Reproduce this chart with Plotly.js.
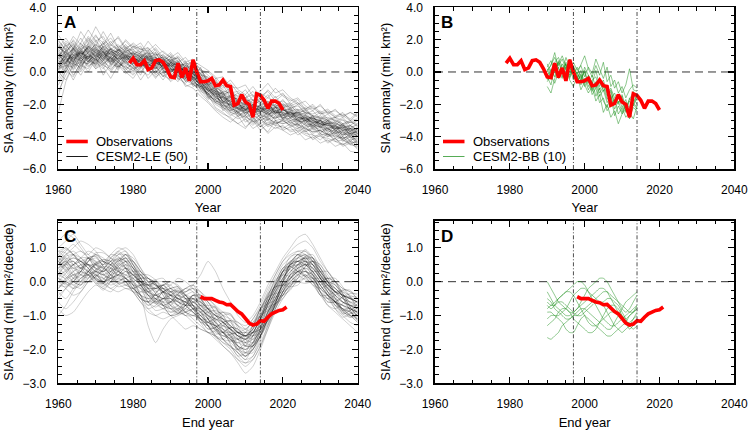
<!DOCTYPE html>
<html>
<head>
<meta charset="utf-8">
<script src="https://cdn.plot.ly/plotly-3.0.1.min.js"></script>
<style>html,body{margin:0;padding:0;background:#fff}#chart{width:750px;height:430px}</style>
</head>
<body>
<div id="chart"></div>
<script>
// ---------- DATA ----------
const yrs2 = [1960,1962,1964,1966,1968,1970,1972,1974,1976,1978,1980,1982,1984,1986,1988,1990,1992,1994,1996,1998,2000,2002,2004,2006,2008,2010,2012,2014,2016,2018,2020,2022,2024,2026,2028,2030,2032,2034,2036,2038,2040];

const obsYears = [1979,1980,1981,1982,1983,1984,1985,1986,1987,1988,1989,1990,1991,1992,1993,1994,1995,1996,1997,1998,1999,2000,2001,2002,2003,2004,2005,2006,2007,2008,2009,2010,2011,2012,2013,2014,2015,2016,2017,2018,2019,2020];
const obsSIA = [0.55,0.85,0.45,0.45,0.7,0.15,0.25,0.7,0.75,0.6,0.2,-0.3,-0.35,0.55,-0.35,0.25,-0.55,0.75,0.0,-0.6,-0.6,-0.55,-0.4,-0.85,-0.8,-0.5,-0.85,-0.9,-2.05,-1.95,-1.4,-1.85,-2.0,-2.8,-1.35,-1.45,-1.75,-2.25,-1.8,-1.8,-1.95,-2.35];

const obsTrendYears = [1998,1999,2000,2001,2002,2003,2004,2005,2006,2007,2008,2009,2010,2011,2012,2013,2014,2015,2016,2017,2018,2019,2020,2021];
const obsTrend = [-0.44,-0.5,-0.5,-0.5,-0.55,-0.6,-0.62,-0.68,-0.67,-0.78,-0.88,-0.95,-1.08,-1.22,-1.28,-1.25,-1.15,-1.17,-1.05,-0.95,-0.9,-0.85,-0.83,-0.75];

const bbYears = [1990,1991,1992,1993,1994,1995,1996,1997,1998,1999,2000,2001,2002,2003,2004,2005,2006,2007,2008,2009,2010,2011,2012,2013,2014];

// CESM2-LE SIA anomaly, 50 members (every 2 years 1960-2040)
const leSIA = [
[1.2,0.5,1.6,0.9,1.8,1.3,0.7,1.5,1.1,0.6,1.2,0.4,1.0,0.9,0.2,0.7,-0.1,0.4,-0.5,-0.3,-1.2,-0.9,-1.9,-1.5,-2.6,-2.0,-2.8,-1.9,-2.5,-2.1,-2.9,-2.2,-3.1,-2.6,-3.4,-2.9,-3.6,-3.2,-3.9,-3.3,-3.8],
[0.3,1.1,0.6,1.4,0.8,1.9,1.2,0.6,1.4,1.0,0.5,1.1,0.3,0.8,0.9,-0.1,0.5,-0.4,0.2,-0.9,-0.7,-1.6,-1.2,-2.3,-1.8,-2.7,-2.1,-2.5,-1.8,-2.6,-2.0,-2.8,-2.4,-3.2,-2.7,-3.5,-3.0,-3.7,-3.2,-4.0,-3.5],
[-1.5,0.2,0.9,0.1,1.3,0.6,1.5,0.8,0.2,1.1,0.4,-0.2,0.9,0.3,-0.3,0.6,-0.5,-0.1,-0.8,-0.4,-1.6,-1.2,-2.4,-1.9,-2.8,-2.3,-3.1,-2.6,-3.3,-2.7,-2.6,-3.2,-2.9,-3.6,-3.1,-3.8,-3.4,-4.1,-3.7,-4.3,-3.9],
[1.6,1.1,2.0,1.4,1.7,2.3,1.5,1.9,1.3,1.6,1.0,1.5,0.8,1.2,0.4,0.9,0.1,0.6,0.3,-0.2,-0.5,-1.1,-0.8,-1.6,-1.3,-2.0,-1.5,-1.9,-1.4,-2.2,-1.7,-2.3,-2.0,-2.6,-2.4,-2.9,-2.6,-3.1,-2.8,-3.3,-3.0],
[0.6,0.0,0.8,0.4,0.9,0.2,0.7,1.2,0.5,0.3,0.9,0.6,0.1,0.5,0.7,0.0,0.3,-0.6,0.0,-1.1,-1.3,-1.9,-1.5,-2.2,-2.5,-1.9,-2.7,-2.2,-3.0,-2.4,-2.9,-2.6,-3.3,-2.9,-3.5,-3.3,-3.9,-3.5,-4.2,-3.8,-4.4],
[1.0,1.5,0.7,1.2,2.0,1.4,1.0,1.7,1.4,0.8,1.3,0.9,1.4,0.5,1.0,0.7,0.9,0.2,0.5,-0.1,-0.9,-0.4,-1.3,-1.0,-1.8,-1.4,-2.1,-1.6,-2.4,-1.8,-2.2,-2.0,-2.6,-2.3,-2.9,-2.7,-3.0,-3.3,-2.9,-3.5,-3.2],
[-0.4,0.6,-0.2,0.5,1.0,0.3,0.8,0.1,0.7,0.4,-0.1,0.6,0.2,-0.4,0.3,-0.2,-0.6,0.1,-0.9,-0.7,-1.5,-2.0,-2.3,-2.7,-2.4,-3.1,-2.8,-3.4,-2.9,-3.2,-3.0,-3.3,-3.5,-3.2,-3.8,-3.6,-4.0,-3.7,-4.3,-4.0,-4.5],
[2.0,1.3,1.7,1.0,1.5,2.2,1.8,1.2,1.6,1.3,0.7,1.2,1.5,0.9,0.6,1.1,0.4,0.5,-0.1,0.2,-0.6,-0.8,-1.4,-1.2,-1.9,-1.6,-2.2,-1.7,-2.0,-1.5,-2.1,-1.9,-2.4,-2.2,-2.8,-2.5,-3.0,-2.8,-3.2,-3.0,-3.4],
[0.9,0.4,1.3,0.7,0.5,1.0,1.6,0.9,0.6,1.2,0.6,1.0,0.5,0.2,0.8,0.4,-0.1,-0.3,-0.5,-1.0,-1.1,-1.5,-2.0,-1.7,-2.3,-2.6,-2.2,-2.9,-2.5,-2.8,-2.7,-2.4,-3.0,-3.2,-3.3,-3.0,-3.5,-3.8,-3.6,-4.1,-3.9],
[0.2,0.9,1.1,0.6,1.4,0.9,1.3,0.5,1.0,0.7,1.1,0.3,0.6,1.0,0.1,0.5,0.6,-0.2,-0.3,-0.5,-0.9,-1.3,-1.6,-2.1,-1.9,-2.4,-2.0,-2.2,-2.7,-2.2,-2.5,-2.8,-2.6,-3.1,-2.9,-3.4,-3.2,-3.6,-3.4,-3.9,-3.6],
[1.4,0.8,0.4,1.2,0.9,1.6,1.0,1.3,0.7,1.0,0.9,0.6,1.1,0.3,0.7,0.2,0.0,0.3,-0.4,-0.8,-1.4,-1.1,-1.8,-2.0,-2.2,-2.5,-2.4,-2.1,-2.6,-2.9,-2.3,-2.7,-3.0,-2.8,-3.2,-3.4,-3.1,-3.6,-3.9,-3.7,-4.0],
[-2.5,-0.6,0.4,-0.2,0.6,1.2,0.5,0.9,0.3,0.6,0.2,0.7,0.0,0.4,-0.3,0.1,-0.2,-0.5,-0.2,-0.9,-1.6,-1.9,-2.2,-2.6,-2.9,-2.7,-3.2,-2.8,-3.0,-3.3,-2.9,-3.4,-3.2,-3.7,-3.5,-3.9,-3.8,-4.2,-4.0,-4.5,-4.2],
[0.7,1.3,1.8,1.1,1.5,1.0,1.9,1.4,1.2,1.5,1.0,0.9,0.6,0.8,0.5,0.3,0.7,0.1,-0.1,-0.4,-0.8,-1.2,-1.4,-1.8,-2.0,-1.8,-2.4,-2.3,-2.0,-2.5,-2.4,-2.2,-2.7,-2.5,-3.0,-3.2,-2.9,-3.4,-3.3,-3.6,-3.5],
[1.1,0.6,1.2,1.6,1.2,0.7,1.1,0.9,1.5,1.0,0.4,0.8,0.9,0.4,0.2,0.5,0.1,0.2,0.0,-0.3,-1.0,-1.7,-1.5,-1.9,-2.3,-2.1,-2.5,-2.4,-2.2,-2.0,-2.6,-2.5,-2.8,-3.0,-2.8,-3.2,-3.5,-3.3,-3.6,-3.5,-3.8],
[0.4,0.8,0.2,1.0,0.6,1.4,0.9,0.6,1.1,0.5,0.8,0.4,0.7,0.6,0.3,-0.2,0.2,-0.2,-0.6,-0.9,-1.3,-1.7,-2.1,-2.0,-2.5,-2.3,-2.6,-3.0,-2.7,-2.4,-2.8,-3.0,-2.9,-3.3,-3.4,-3.2,-3.7,-3.6,-3.9,-3.8,-4.1],
[1.8,1.0,1.4,2.1,1.3,1.7,1.2,1.4,0.9,1.3,1.4,1.0,1.2,0.7,1.1,0.6,0.5,0.4,0.2,0.1,-0.4,-0.7,-1.1,-1.4,-1.5,-1.8,-1.7,-2.0,-1.9,-2.1,-2.0,-2.2,-2.1,-2.5,-2.6,-2.4,-2.9,-2.8,-3.0,-3.1,-3.0],
[0.0,0.7,0.5,0.3,1.1,0.8,0.4,1.0,0.6,0.2,0.5,0.9,0.3,0.0,0.4,0.2,-0.3,-0.4,-0.7,-1.2,-1.4,-1.8,-2.0,-2.4,-2.2,-2.6,-2.9,-2.7,-2.5,-3.0,-2.9,-3.1,-3.3,-3.4,-3.3,-3.7,-3.6,-3.9,-4.1,-3.9,-4.3],
[1.3,1.6,1.2,0.9,1.6,1.2,1.5,1.1,1.4,1.2,1.1,1.3,0.8,0.9,0.6,0.8,0.3,0.1,0.1,-0.5,-0.7,-1.0,-1.6,-1.5,-1.7,-2.1,-2.0,-1.8,-2.3,-2.2,-2.4,-2.3,-2.6,-2.7,-2.9,-2.8,-3.1,-3.2,-3.4,-3.3,-3.6],
[0.5,0.2,0.9,1.3,0.7,0.5,1.2,1.1,0.8,0.9,0.6,0.5,0.4,0.7,0.5,0.1,0.4,0.0,-0.3,-0.6,-1.1,-1.3,-1.8,-2.2,-2.0,-2.3,-2.5,-2.4,-2.6,-2.4,-2.7,-2.6,-2.9,-3.0,-3.1,-3.0,-3.4,-3.5,-3.5,-3.8,-3.7],
[0.9,1.2,0.8,1.1,1.3,1.0,0.8,1.3,1.0,0.8,0.9,0.7,0.9,0.6,0.4,0.4,0.3,-0.1,-0.1,-0.7,-1.0,-1.5,-1.6,-1.9,-2.1,-2.0,-2.3,-2.5,-2.3,-2.5,-2.5,-2.4,-2.8,-2.9,-3.1,-3.1,-3.3,-3.3,-3.6,-3.6,-3.8],
[1.5,2.1,1.4,2.5,1.8,2.8,2.0,1.6,2.2,1.5,1.7,1.2,1.9,1.3,0.8,1.2,0.6,0.9,0.3,-0.2,-0.3,-0.9,-0.6,-1.2,-1.5,-1.1,-1.8,-1.3,-1.6,-1.0,-1.5,-1.8,-1.6,-2.1,-2.4,-2.0,-2.6,-2.3,-2.8,-2.5,-2.7],
[-0.8,0.1,-0.3,0.6,0.0,0.8,0.3,-0.4,0.4,-0.1,0.3,-0.5,0.2,-0.3,0.0,-0.6,-0.2,-0.8,-1.0,-1.5,-1.9,-2.4,-2.8,-3.1,-2.7,-3.4,-3.0,-3.6,-3.2,-3.5,-3.3,-3.7,-3.6,-3.9,-4.1,-3.8,-4.3,-4.1,-4.6,-4.4,-4.7],
[0.8,1.7,1.0,1.5,2.2,1.6,2.5,1.7,1.3,2.0,1.5,1.8,1.1,1.5,0.9,0.7,1.0,0.5,0.6,0.2,-0.2,-0.6,-1.0,-0.7,-1.3,-1.6,-1.2,-1.7,-1.1,-1.6,-1.3,-2.0,-1.7,-2.3,-2.1,-2.6,-2.4,-2.8,-2.5,-3.0,-2.6],
[1.7,0.9,1.5,0.6,1.2,0.4,1.3,0.8,0.1,0.9,1.0,0.2,0.6,-0.1,0.5,0.0,0.4,-0.4,0.1,-0.6,-1.2,-1.0,-1.9,-1.4,-2.3,-1.8,-2.6,-2.0,-2.8,-2.1,-3.0,-2.4,-3.2,-2.7,-3.5,-3.0,-3.8,-3.3,-4.0,-3.5,-4.0],
[0.1,1.4,0.6,1.8,1.1,0.7,1.7,2.1,1.5,0.9,1.6,1.1,0.9,1.4,0.7,1.0,0.2,0.7,-0.4,0.3,-0.8,-0.5,-1.5,-1.1,-1.9,-2.4,-1.7,-2.5,-1.9,-2.6,-2.1,-2.9,-2.3,-3.0,-2.7,-3.3,-3.0,-3.5,-3.2,-3.7,-3.4],
[1.2,0.3,-0.5,0.4,0.2,0.9,-0.2,0.5,0.8,0.0,-0.4,0.3,0.6,0.1,-0.5,0.2,-0.4,-0.7,-0.3,-0.8,-1.4,-2.2,-2.5,-2.9,-3.2,-3.5,-2.9,-3.3,-3.7,-3.0,-3.6,-3.4,-3.9,-3.6,-4.2,-3.9,-4.4,-4.1,-4.5,-4.3,-4.8],
[1.9,1.4,2.2,1.7,1.4,2.0,1.3,1.8,2.1,1.4,1.8,1.4,1.3,1.7,1.2,0.9,0.8,0.3,0.7,0.4,0.1,-0.3,-0.9,-0.5,-1.1,-1.4,-0.9,-1.5,-1.2,-1.8,-1.4,-1.7,-2.0,-1.8,-2.3,-2.1,-2.5,-2.4,-2.7,-2.5,-2.8],
[0.6,1.0,0.1,0.8,1.7,1.1,0.6,0.3,1.2,0.7,0.0,0.9,0.5,0.9,0.2,0.6,0.7,-0.2,-0.1,-0.6,-1.2,-1.4,-2.0,-2.3,-2.6,-2.9,-3.3,-2.9,-3.4,-3.1,-3.5,-3.2,-3.7,-3.4,-3.9,-4.2,-3.8,-4.3,-4.5,-4.2,-4.6],
[-0.6,0.3,1.0,0.4,0.8,1.5,1.0,0.7,1.4,0.9,1.2,0.9,1.2,0.4,0.6,0.2,0.1,-0.6,-0.4,-1.1,-1.7,-1.3,-2.2,-2.4,-2.0,-2.5,-2.7,-2.5,-2.2,-2.7,-3.1,-2.8,-3.3,-3.0,-3.6,-3.4,-3.9,-3.7,-4.0,-4.2,-4.1],
[1.0,1.3,0.5,1.3,0.9,1.2,0.8,1.5,0.7,1.3,0.9,1.2,0.7,0.8,0.9,0.3,0.6,0.0,0.4,-0.3,-0.6,-1.2,-1.3,-1.7,-1.6,-2.3,-2.0,-2.2,-2.4,-2.0,-2.3,-2.7,-2.5,-2.6,-3.0,-2.9,-3.1,-3.0,-3.3,-3.4,-3.3],
[0.3,0.6,1.2,0.7,1.0,0.6,1.1,1.4,0.6,1.1,0.7,0.5,0.3,0.6,0.1,-0.3,0.0,0.2,-0.7,-0.9,-1.0,-1.6,-1.9,-2.3,-2.4,-2.1,-2.3,-2.8,-2.6,-2.9,-2.6,-3.0,-3.1,-3.0,-3.3,-3.6,-3.5,-3.8,-3.7,-4.0,-4.2],
[1.4,1.9,1.5,1.0,1.6,1.3,1.8,1.0,1.3,1.7,1.2,0.7,1.1,1.2,0.4,0.8,0.5,0.2,-0.2,0.0,-0.5,-1.0,-1.2,-1.3,-1.9,-1.7,-1.9,-1.6,-2.1,-2.3,-1.9,-2.4,-2.3,-2.5,-2.7,-2.8,-3.0,-2.9,-3.3,-3.1,-3.2],
[0.0,-0.5,0.5,0.9,0.4,0.6,0.2,0.9,0.4,0.1,0.6,0.1,-0.2,0.3,0.1,-0.1,-0.4,-0.3,-0.6,-0.9,-1.3,-1.8,-1.9,-2.5,-2.7,-2.5,-2.8,-3.2,-2.9,-3.1,-3.2,-3.0,-3.4,-3.7,-3.4,-3.8,-4.0,-3.9,-4.2,-4.4,-4.3],
[0.8,1.1,1.4,0.8,1.2,1.7,1.4,1.1,0.8,1.4,1.1,1.0,0.8,0.5,0.7,0.5,0.2,0.1,-0.1,-0.5,-0.7,-1.1,-1.5,-1.8,-2.2,-2.4,-2.2,-2.1,-2.4,-2.6,-2.4,-2.3,-2.8,-2.9,-3.0,-3.2,-3.3,-3.5,-3.4,-3.7,-3.8],
[1.1,0.9,0.6,1.5,0.7,1.0,1.4,0.7,1.2,0.8,0.5,0.8,0.4,0.8,0.6,0.4,0.0,0.4,0.1,-0.4,-0.9,-1.4,-1.3,-2.0,-2.0,-2.2,-2.1,-2.6,-2.4,-2.3,-2.6,-2.5,-2.7,-2.8,-3.2,-3.0,-3.2,-3.5,-3.4,-3.6,-3.7],
[0.4,0.0,1.1,0.5,1.6,0.9,1.2,0.4,0.9,0.5,0.3,0.8,0.2,0.6,0.4,0.0,0.2,-0.3,-0.4,-0.8,-1.2,-1.6,-1.8,-2.1,-2.3,-2.4,-2.6,-2.7,-2.8,-2.6,-2.8,-2.9,-3.0,-3.1,-3.3,-3.4,-3.6,-3.4,-3.8,-3.9,-4.0],
[1.5,1.2,0.9,1.2,0.6,1.3,0.9,1.2,1.3,1.1,0.8,0.6,1.0,0.6,0.3,0.6,0.4,0.0,0.0,-0.5,-0.9,-1.2,-1.7,-1.6,-1.9,-2.2,-2.4,-2.2,-2.0,-2.4,-2.3,-2.6,-2.5,-2.9,-2.8,-3.1,-3.2,-3.1,-3.4,-3.5,-3.5],
[0.7,0.5,1.4,1.0,0.8,0.5,1.0,0.6,0.9,0.6,0.7,0.3,0.8,0.2,0.4,0.1,0.2,-0.4,-0.3,-0.8,-1.1,-1.5,-1.9,-2.0,-2.3,-2.5,-2.4,-2.6,-2.9,-2.8,-2.8,-2.7,-3.0,-3.3,-3.2,-3.4,-3.5,-3.7,-3.7,-3.8,-3.9],
[2.3,1.6,1.9,1.3,2.1,1.5,1.7,2.4,1.5,1.9,1.4,1.6,0.9,1.1,1.0,0.6,0.9,0.2,0.3,-0.1,-0.4,-0.8,-0.7,-1.3,-1.2,-1.6,-1.4,-1.9,-1.6,-1.9,-1.8,-2.1,-1.9,-2.4,-2.2,-2.6,-2.5,-2.8,-2.7,-3.0,-2.9],
[-1.2,-0.2,0.6,0.0,0.7,0.2,0.5,0.0,0.6,0.2,-0.2,0.4,-0.4,0.1,-0.2,-0.5,-0.1,-0.9,-0.7,-1.3,-1.8,-2.3,-2.6,-2.8,-3.2,-2.9,-3.5,-3.2,-3.8,-3.4,-3.6,-3.9,-3.7,-4.2,-4.0,-4.4,-4.2,-4.6,-4.4,-4.9,-5.0],
[0.9,1.8,1.3,1.8,2.6,1.9,2.2,1.4,1.7,1.2,1.6,1.4,1.5,1.0,1.3,0.9,1.2,0.6,0.8,0.1,0.0,-0.4,-0.3,-0.9,-1.0,-0.8,-1.5,-1.2,-0.7,-1.3,-1.1,-1.6,-1.9,-2.3,-2.0,-2.5,-2.3,-2.7,-2.6,-2.9,-2.5],
[0.5,1.0,0.7,0.2,1.0,0.4,0.9,0.5,0.3,0.8,0.4,0.0,0.5,0.2,0.6,0.3,-0.2,0.0,-0.5,-0.7,-1.5,-1.7,-2.1,-2.2,-2.5,-2.8,-2.6,-3.0,-2.8,-3.2,-3.0,-3.3,-3.2,-3.5,-3.7,-3.6,-3.9,-3.8,-4.1,-4.0,-4.4],
[1.6,1.2,1.7,1.1,1.4,0.9,1.6,1.3,1.0,1.5,1.3,1.1,0.7,1.1,0.8,0.6,0.3,0.5,0.2,-0.1,-0.6,-0.9,-1.3,-1.5,-1.7,-1.6,-2.0,-2.1,-1.8,-2.2,-2.2,-2.1,-2.5,-2.4,-2.7,-2.9,-2.8,-3.0,-3.2,-3.1,-3.3],
[0.2,0.4,0.3,0.9,0.3,0.8,0.4,0.2,0.6,0.3,0.1,0.5,0.1,0.3,-0.1,0.2,-0.3,-0.2,-0.5,-1.0,-1.4,-1.8,-2.2,-2.5,-2.6,-2.8,-3.0,-3.4,-3.1,-3.3,-3.4,-3.6,-3.5,-3.8,-3.9,-4.0,-4.1,-4.3,-4.2,-4.5,-4.6],
[1.3,0.7,1.0,1.3,0.6,1.1,0.6,1.0,0.4,1.0,0.6,0.9,0.4,0.7,0.3,0.7,0.1,0.3,-0.4,-0.6,-1.0,-1.2,-1.6,-1.8,-1.8,-2.0,-2.2,-2.3,-2.2,-2.4,-2.3,-2.6,-2.5,-2.7,-2.9,-3.0,-3.2,-3.1,-3.5,-3.3,-3.6],
[0.7,0.3,1.5,0.8,1.2,1.5,0.7,1.2,0.8,1.4,1.0,0.8,1.3,0.4,0.8,0.4,0.5,-0.1,0.2,-0.4,-0.8,-1.3,-1.5,-1.9,-2.1,-2.3,-2.1,-2.4,-2.6,-2.5,-2.7,-2.5,-2.9,-2.8,-3.1,-3.3,-3.2,-3.4,-3.6,-3.5,-3.7],
[0.1,0.9,0.4,0.6,0.5,0.9,0.5,0.9,0.3,0.7,0.2,0.4,0.5,-0.2,0.2,-0.3,0.0,-0.5,-0.8,-1.0,-1.3,-1.9,-2.1,-2.4,-2.5,-2.7,-3.1,-2.9,-3.3,-3.0,-3.2,-3.1,-3.4,-3.5,-3.7,-3.6,-3.9,-4.0,-4.1,-4.3,-4.4],
[1.0,0.6,1.0,1.2,1.5,1.2,0.9,1.4,1.2,1.0,1.2,0.9,1.0,0.7,0.5,0.5,0.4,0.2,-0.2,-0.3,-0.8,-1.1,-1.4,-1.6,-1.9,-2.0,-2.1,-2.2,-2.5,-2.2,-2.3,-2.5,-2.6,-2.8,-2.9,-3.0,-3.2,-3.2,-3.3,-3.5,-3.6],
[0.6,0.8,0.9,0.7,1.0,0.8,1.3,0.6,1.1,0.8,0.7,0.6,0.6,0.5,0.4,0.2,0.1,0.1,-0.3,-0.7,-1.1,-1.4,-1.7,-2.1,-2.2,-2.3,-2.4,-2.3,-2.5,-2.4,-2.6,-2.8,-2.7,-3.0,-3.1,-3.2,-3.3,-3.6,-3.6,-3.8,-3.9],
[0.4,1.1,0.8,1.2,0.8,1.4,1.2,0.8,1.2,0.9,0.8,0.7,0.8,0.6,0.6,0.3,0.3,-0.1,-0.1,-0.6,-1.0,-1.3,-1.8,-1.8,-2.1,-2.3,-2.2,-2.4,-2.2,-2.5,-2.5,-2.6,-2.8,-2.9,-3.0,-3.2,-3.3,-3.4,-3.5,-3.7,-3.8]
];

// CESM2-LE SIA trend by end year, 50 members (every 2 years 1960-2040)
const leTrend = [
[0.6,0.8,0.9,0.7,0.5,0.3,0.2,0.4,0.6,0.7,0.4,0.1,-0.2,-0.4,-0.5,-0.4,-0.3,-0.5,-0.7,-1.0,-1.3,-1.5,-1.6,-1.7,-1.9,-2.0,-1.8,-1.4,-0.9,-0.4,0.1,0.5,0.7,0.8,0.6,0.3,0.0,-0.3,-0.5,-0.6,-0.8],
[0.1,0.0,-0.1,0.1,0.3,0.5,0.4,0.2,0.1,0.0,-0.2,-0.4,-0.6,-0.5,-0.3,-0.2,-0.4,-0.7,-0.9,-1.1,-1.2,-1.1,-1.2,-1.4,-1.6,-1.9,-1.9,-1.6,-1.1,-0.7,-0.3,0.0,0.2,0.3,0.2,-0.1,-0.4,-0.6,-0.8,-0.9,-1.0],
[0.5,0.7,0.6,0.4,0.6,0.8,0.6,0.3,0.2,0.3,0.2,0.0,-0.1,0.0,-0.2,-0.4,-0.6,-0.7,-0.5,-0.6,-0.8,-1.0,-1.2,-1.4,-1.5,-1.6,-1.4,-1.0,-0.6,-0.2,0.3,0.6,0.7,0.6,0.4,0.1,-0.1,-0.3,-0.4,-0.5,-0.6],
[-0.3,-0.5,-0.2,0.1,0.2,0.0,-0.2,0.0,0.3,0.5,0.4,0.1,-0.3,-0.6,-0.8,-0.9,-0.8,-0.6,-0.4,-0.5,-0.8,-1.2,-1.5,-1.8,-2.0,-2.1,-1.9,-1.5,-1.0,-0.5,-0.1,0.2,0.4,0.5,0.5,0.3,0.0,-0.3,-0.6,-0.8,-0.9],
[0.8,1.0,0.8,0.6,0.5,0.5,0.3,0.5,0.7,0.6,0.3,-0.1,-0.3,-0.2,-0.1,-0.3,-0.5,-0.6,-0.8,-1.0,-1.2,-1.3,-1.3,-1.4,-1.6,-1.7,-1.5,-1.1,-0.6,-0.1,0.3,0.6,0.8,0.9,0.7,0.4,0.1,-0.2,-0.4,-0.5,-0.6],
[0.2,0.3,0.5,0.6,0.7,0.6,0.5,0.6,0.8,0.8,0.5,0.2,0.0,-0.1,-0.3,-0.5,-0.7,-0.8,-0.9,-1.1,-1.3,-1.6,-1.8,-1.9,-2.1,-2.2,-2.0,-1.6,-1.1,-0.6,-0.2,0.1,0.3,0.3,0.1,-0.2,-0.4,-0.6,-0.7,-0.8,-0.9],
[0.4,0.2,0.0,-0.1,0.1,0.3,0.2,0.1,0.2,0.1,-0.1,-0.2,-0.3,-0.5,-0.7,-0.8,-0.7,-0.5,-0.5,-0.7,-0.9,-1.0,-1.1,-1.3,-1.5,-1.6,-1.5,-1.1,-0.7,-0.3,0.0,0.3,0.5,0.6,0.5,0.2,-0.1,-0.3,-0.5,-0.7,-0.9],
[-0.6,-0.8,-0.6,-0.3,0.0,0.2,0.1,0.0,0.1,0.3,0.2,0.0,-0.2,-0.2,-0.1,-0.3,-0.5,-0.6,-0.7,-0.9,-1.1,-1.3,-1.5,-1.7,-1.8,-1.9,-1.6,-1.3,-0.9,-0.5,-0.1,0.2,0.3,0.2,0.0,-0.3,-0.5,-0.6,-0.7,-0.8,-1.0],
[1.0,1.2,1.4,1.1,0.8,0.6,0.4,0.3,0.5,0.4,0.2,0.0,-0.1,-0.2,-0.2,-0.3,-0.3,-0.4,-0.6,-0.8,-1.0,-1.1,-1.3,-1.5,-1.7,-1.8,-1.7,-1.3,-0.8,-0.4,0.0,0.3,0.5,0.6,0.5,0.2,-0.1,-0.3,-0.4,-0.6,-0.7],
[0.8,0.65,0.3,0.0,0.0,0.15,0.35,0.7,0.85,0.6,0.1,-0.4,-0.7,-0.55,-0.3,-0.2,-0.15,-0.4,-0.7,-1.1,-1.4,-1.35,-1.2,-1.15,-1.3,-1.5,-1.6,-1.5,-1.15,-0.65,0.0,0.55,0.8,0.65,0.2,-0.3,-0.6,-0.6,-0.45,-0.45,-0.65],
[-0.1,-0.15,0.0,0.3,0.7,0.75,0.45,0.2,-0.05,-0.2,-0.2,-0.1,0.0,0.05,-0.2,-0.6,-0.85,-1.0,-0.8,-0.7,-0.7,-0.75,-1.1,-1.55,-2.1,-2.3,-1.9,-1.2,-0.45,0.05,0.2,0.15,0.0,-0.05,0.0,0.0,0.1,0.0,-0.35,-0.75,-1.05],
[0.5,0.75,0.8,0.6,0.4,0.05,-0.15,0.1,0.45,0.6,0.5,0.1,-0.4,-0.65,-0.8,-0.7,-0.45,-0.3,-0.2,-0.6,-1.1,-1.45,-1.6,-1.55,-1.5,-1.4,-1.2,-1.0,-0.85,-0.65,-0.4,0.05,0.5,0.75,0.7,0.2,-0.3,-0.7,-0.95,-0.85,-0.65],
[-1.0,-0.7,-0.3,0.0,0.2,0.3,0.2,0.3,0.4,0.3,0.1,-0.1,-0.4,-0.6,-0.7,-0.6,-0.5,-0.6,-0.8,-1.0,-1.2,-1.3,-1.4,-1.6,-1.9,-2.0,-1.8,-1.4,-0.9,-0.5,-0.1,0.1,0.3,0.4,0.3,0.0,-0.3,-0.5,-0.6,-0.7,-0.8],
[0.4,0.5,0.6,0.4,0.5,0.4,0.3,0.5,0.8,0.9,0.6,0.2,-0.1,-0.3,-0.2,-0.3,-0.4,-0.5,-0.5,-0.7,-0.9,-1.1,-1.3,-1.4,-1.6,-1.6,-1.4,-1.0,-0.5,-0.1,0.3,0.5,0.7,0.8,0.6,0.3,0.0,-0.2,-0.4,-0.5,-0.6],
[0.2,0.1,0.2,0.3,0.2,0.1,0.0,0.1,0.0,-0.1,-0.2,-0.4,-0.5,-0.4,-0.5,-0.7,-0.8,-0.9,-0.8,-0.9,-1.1,-1.3,-1.5,-1.7,-2.0,-2.2,-2.0,-1.6,-1.1,-0.7,-0.3,0.0,0.2,0.3,0.1,-0.2,-0.4,-0.6,-0.8,-0.9,-1.1],
[0.6,0.4,0.5,0.7,0.9,0.8,0.6,0.5,0.4,0.5,0.3,0.1,-0.1,-0.1,-0.2,-0.4,-0.5,-0.4,-0.3,-0.5,-0.8,-1.0,-1.1,-1.2,-1.5,-1.6,-1.5,-1.1,-0.6,-0.2,0.2,0.5,0.6,0.7,0.5,0.2,0.0,-0.2,-0.4,-0.5,-0.5],
[0.3,0.15,-0.1,-0.2,0.1,0.35,0.55,0.8,0.75,0.4,-0.1,-0.5,-0.6,-0.35,-0.1,-0.1,-0.35,-0.7,-0.9,-1.2,-1.2,-1.05,-0.9,-0.95,-1.4,-1.8,-1.9,-1.6,-1.05,-0.35,0.3,0.75,0.8,0.55,0.1,-0.4,-0.5,-0.4,-0.25,-0.25,-0.55],
[0.0,0.25,0.5,0.7,0.7,0.35,-0.05,-0.2,-0.05,0.2,0.3,0.3,0.0,-0.35,-0.7,-1.0,-0.95,-0.7,-0.4,-0.4,-0.6,-0.95,-1.4,-1.85,-2.2,-2.1,-1.6,-0.9,-0.35,-0.15,-0.1,-0.15,-0.1,0.15,0.3,0.3,0.3,0.0,-0.45,-0.85,-1.15],
[0.9,0.85,0.5,0.2,0.2,0.35,0.45,0.4,0.15,-0.1,-0.2,-0.1,-0.1,-0.05,-0.3,-0.7,-0.95,-0.9,-0.6,-0.5,-0.5,-0.75,-1.2,-1.65,-2.0,-1.9,-1.4,-0.8,-0.45,-0.35,-0.3,-0.15,0.2,0.55,0.6,0.4,0.0,-0.5,-0.85,-0.95,-0.85],
[0.1,0.35,0.4,0.3,0.2,-0.05,-0.25,0.0,0.35,0.6,0.6,0.3,-0.2,-0.55,-0.7,-0.6,-0.35,-0.2,-0.1,-0.5,-1.0,-1.35,-1.6,-1.65,-1.7,-1.6,-1.5,-1.3,-1.05,-0.75,-0.3,0.25,0.7,0.95,0.7,0.1,-0.4,-0.8,-1.05,-0.95,-0.75],
[1.2,1.4,1.3,1.0,0.7,0.5,0.4,0.6,0.9,1.0,0.8,0.4,0.0,-0.2,-0.1,0.0,-0.1,-0.3,-0.1,0.2,0.6,0.3,-0.2,-0.6,-1.0,-1.2,-1.0,-0.6,-0.1,0.3,0.7,1.0,1.3,1.4,1.1,0.7,0.3,0.0,-0.2,-0.3,-0.5],
[-0.8,-1.0,-0.9,-0.6,-0.3,-0.1,-0.2,-0.3,-0.1,0.0,-0.3,-0.6,-0.9,-1.0,-0.9,-1.0,-1.2,-1.4,-1.3,-1.4,-1.5,-1.7,-1.9,-2.1,-2.3,-2.4,-2.2,-1.8,-1.3,-0.8,-0.4,-0.1,0.0,0.1,-0.1,-0.4,-0.7,-0.9,-1.1,-1.3,-1.5],
[0.6,0.9,1.1,0.9,0.8,1.0,0.9,0.7,0.6,0.8,0.7,0.4,0.1,-0.1,-0.2,-0.1,0.1,0.0,-0.2,-0.4,-0.6,-0.8,-1.0,-1.1,-1.3,-1.4,-1.2,-0.8,-0.4,0.1,0.5,0.7,0.9,0.9,0.6,0.2,-0.1,-0.3,-0.3,-0.4,-0.5],
[0.0,-0.2,-0.4,-0.3,0.0,0.2,0.0,-0.2,-0.3,-0.2,-0.3,-0.5,-0.8,-1.0,-1.1,-1.0,-0.9,-1.0,-1.2,-1.4,-1.5,-1.6,-1.7,-1.9,-2.2,-2.4,-2.3,-1.9,-1.4,-0.9,-0.5,-0.2,0.0,0.2,0.1,-0.2,-0.5,-0.8,-1.0,-1.2,-1.3],
[0.9,0.7,0.5,0.4,0.6,0.7,0.5,0.8,1.0,0.9,0.5,0.1,-0.2,-0.5,-0.7,-0.8,-0.8,-0.7,-0.6,-0.8,-1.1,-1.4,-1.7,-1.9,-2.1,-2.3,-2.2,-1.7,-1.1,-0.6,-0.2,0.2,0.5,0.7,0.7,0.5,0.2,-0.1,-0.3,-0.5,-0.6],
[-0.5,-0.2,0.1,0.3,0.5,0.4,0.1,-0.1,0.0,0.1,-0.1,-0.4,-1.3,-1.8,-1.4,-1.1,-1.0,-0.9,-0.8,-0.8,-1.0,-1.2,-1.4,-1.6,-1.9,-2.1,-2.0,-1.6,-1.2,-0.7,-0.3,0.1,0.3,0.4,0.2,-0.1,-0.4,-0.6,-0.8,-1.0,-1.2],
[0.5,0.8,1.0,1.2,1.1,0.9,0.6,0.5,0.6,0.8,0.6,0.3,0.1,0.0,0.0,-0.2,-0.3,-0.3,-0.2,-0.3,-0.5,-0.7,-0.9,-1.0,-1.2,-1.3,-1.1,-0.7,-0.2,0.2,0.6,0.9,1.1,1.2,1.0,0.6,0.3,0.0,-0.2,-0.3,-0.4],
[0.1,-0.1,0.0,0.2,0.3,0.2,0.0,0.1,0.2,0.1,-0.2,-0.5,-0.6,-0.6,-0.5,-0.6,-0.7,-0.9,-1.1,-1.3,-1.5,-1.6,-1.8,-2.0,-2.3,-2.5,-2.3,-1.9,-1.3,-0.8,-0.4,-0.1,0.1,0.2,0.0,-0.3,-0.5,-0.7,-0.8,-1.0,-1.1],
[0.4,0.6,0.4,0.2,0.1,0.3,0.5,0.7,0.9,0.7,0.4,0.0,-0.3,-0.4,-0.3,-0.3,-0.2,-0.4,-0.6,-0.7,-0.8,-0.9,-1.1,-1.3,-1.5,-1.5,-1.3,-0.9,-0.4,0.0,0.4,0.6,0.6,0.5,0.3,0.0,-0.3,-0.6,-0.8,-0.8,-0.9],
[-0.2,0.0,0.2,0.1,0.3,0.5,0.6,0.5,0.3,0.2,0.1,-0.1,-0.4,-0.5,-0.6,-0.8,-0.9,-0.8,-0.6,-0.8,-1.0,-1.2,-1.4,-1.5,-1.7,-1.8,-1.6,-1.2,-0.7,-0.3,0.1,0.4,0.6,0.7,0.5,0.1,-0.2,-0.4,-0.6,-0.7,-0.8],
[0.8,0.6,0.4,0.5,0.7,0.5,0.2,0.1,0.2,0.4,0.3,0.0,-0.3,-0.4,-0.3,-0.4,-0.6,-0.7,-0.7,-0.9,-1.2,-1.4,-1.5,-1.5,-1.6,-1.7,-1.5,-1.1,-0.6,-0.1,0.2,0.5,0.6,0.5,0.3,-0.1,-0.4,-0.7,-0.9,-1.0,-1.0],
[0.6,0.45,0.1,0.0,0.3,0.55,0.65,0.6,0.35,0.0,-0.3,-0.3,-0.2,0.05,0.1,-0.2,-0.55,-0.9,-1.0,-1.0,-0.9,-0.85,-1.0,-1.35,-1.9,-2.2,-2.0,-1.4,-0.65,-0.05,0.4,0.45,0.3,0.15,0.0,-0.1,0.0,-0.1,-0.35,-0.65,-0.95],
[-0.2,0.05,0.3,0.5,0.5,0.25,-0.05,0.1,0.45,0.6,0.3,-0.2,-0.6,-0.85,-0.8,-0.6,-0.35,-0.2,-0.3,-0.8,-1.3,-1.65,-1.7,-1.55,-1.5,-1.5,-1.5,-1.4,-1.15,-0.65,0.0,0.55,0.6,0.35,0.0,-0.4,-0.4,-0.3,-0.25,-0.45,-0.85],
[0.4,0.65,0.8,0.7,0.5,0.15,-0.05,0.2,0.55,0.7,0.4,-0.1,-0.6,-0.75,-0.6,-0.4,-0.25,-0.4,-0.7,-1.2,-1.5,-1.45,-1.3,-1.15,-1.2,-1.4,-1.5,-1.4,-1.15,-0.65,-0.1,0.45,0.8,0.75,0.3,-0.3,-0.7,-0.8,-0.65,-0.45,-0.45],
[0.5,0.6,0.7,0.6,0.4,0.2,0.1,0.2,0.3,0.4,0.2,0.0,-0.2,-0.2,-0.3,-0.4,-0.4,-0.5,-0.6,-0.6,-0.8,-1.0,-1.1,-1.3,-1.5,-1.6,-1.4,-1.0,-0.5,-0.1,0.3,0.5,0.6,0.6,0.4,0.1,-0.1,-0.3,-0.4,-0.5,-0.6],
[0.3,0.05,-0.2,-0.1,0.3,0.55,0.65,0.6,0.35,0.1,0.0,0.1,0.1,-0.05,-0.4,-0.8,-0.95,-0.8,-0.5,-0.5,-0.8,-1.25,-1.7,-1.95,-2.0,-1.8,-1.3,-0.8,-0.55,-0.45,-0.4,-0.25,0.1,0.45,0.6,0.5,0.1,-0.4,-0.85,-1.05,-0.95],
[0.7,0.5,0.5,0.6,0.5,0.3,0.3,0.4,0.3,0.2,0.0,-0.2,-0.4,-0.4,-0.5,-0.5,-0.6,-0.7,-0.7,-0.8,-1.0,-1.1,-1.2,-1.4,-1.6,-1.7,-1.5,-1.1,-0.6,-0.2,0.1,0.4,0.5,0.5,0.3,0.0,-0.2,-0.4,-0.6,-0.7,-0.7],
[0.7,0.55,0.2,0.0,0.0,0.15,0.35,0.6,0.65,0.4,-0.1,-0.5,-0.6,-0.35,-0.1,0.0,-0.15,-0.5,-0.8,-1.2,-1.3,-1.15,-1.0,-0.95,-1.3,-1.7,-1.8,-1.6,-1.25,-0.65,0.0,0.55,0.8,0.65,0.2,-0.3,-0.6,-0.6,-0.45,-0.35,-0.35],
[0.0,-0.05,0.1,0.4,0.7,0.55,0.25,0.0,-0.15,-0.1,0.0,0.1,0.1,-0.05,-0.4,-0.7,-0.85,-0.7,-0.4,-0.4,-0.7,-1.15,-1.5,-1.75,-1.8,-1.7,-1.3,-1.0,-0.75,-0.65,-0.5,-0.15,0.3,0.65,0.7,0.3,-0.2,-0.6,-0.85,-0.75,-0.55],
[0.5,0.35,0.1,0.2,0.6,0.85,0.85,0.7,0.45,0.1,-0.1,-0.1,-0.1,-0.25,-0.6,-0.9,-0.85,-0.6,-0.4,-0.7,-1.1,-1.45,-1.5,-1.35,-1.4,-1.6,-1.7,-1.5,-0.95,-0.25,0.3,0.45,0.3,0.15,0.1,0.1,0.1,0.0,-0.35,-0.75,-1.05],
[0.9,1.0,0.8,0.5,0.3,0.1,0.0,0.2,0.5,0.7,0.6,0.3,0.1,-0.1,-0.3,-0.5,-0.7,-0.9,-1.0,-1.1,-1.3,-1.6,-1.9,-2.1,-2.4,-2.7,-2.5,-2.0,-1.4,-0.8,-0.3,0.1,0.4,0.5,0.4,0.1,-0.2,-0.5,-0.7,-0.9,-1.1],
[-0.4,-0.2,0.0,0.3,0.6,0.8,0.7,0.5,0.3,0.1,-0.2,-0.4,-0.5,-0.5,-0.6,-0.6,-0.4,-0.2,-0.1,-0.3,-0.6,-0.9,-1.2,-1.3,-1.5,-1.6,-1.3,-0.8,-0.3,0.2,0.6,0.8,0.9,0.8,0.5,0.1,-0.3,-0.6,-0.9,-1.0,-1.2],
[0.6,0.3,0.0,-0.1,0.2,0.5,0.6,0.4,0.2,0.0,-0.3,-0.6,-0.8,-0.7,-0.5,-0.4,-0.5,-0.7,-0.9,-1.1,-1.3,-1.4,-1.5,-1.7,-1.9,-2.0,-1.9,-1.5,-1.0,-0.6,-0.2,0.2,0.4,0.5,0.4,0.1,-0.2,-0.4,-0.6,-0.7,-0.8],
[0.2,0.5,0.8,0.9,0.7,0.4,0.3,0.5,0.7,0.6,0.4,0.2,0.0,-0.1,-0.3,-0.4,-0.5,-0.6,-0.5,-0.6,-0.8,-1.0,-1.2,-1.4,-1.6,-1.7,-1.6,-1.2,-0.7,-0.3,0.1,0.4,0.6,0.7,0.6,0.3,0.0,-0.3,-0.5,-0.6,-0.6],
[-0.2,0.1,0.3,0.4,0.3,0.1,-0.1,0.0,0.2,0.4,0.2,-0.1,-0.4,-0.6,-0.5,-0.5,-0.6,-0.6,-0.8,-1.0,-1.2,-1.3,-1.5,-1.6,-1.7,-1.9,-1.8,-1.4,-0.9,-0.5,-0.1,0.1,0.3,0.3,0.2,-0.1,-0.4,-0.6,-0.7,-0.8,-0.9],
[0.2,0.55,0.7,0.6,0.4,0.05,-0.05,0.3,0.65,0.8,0.5,0.0,-0.5,-0.65,-0.5,-0.3,-0.25,-0.5,-0.8,-1.1,-1.1,-0.95,-0.9,-1.15,-1.7,-2.1,-2.1,-1.6,-0.85,-0.15,0.3,0.35,0.2,0.05,0.0,0.0,0.0,-0.1,-0.45,-0.85,-1.15],
[0.7,0.95,0.8,0.5,0.3,0.05,0.05,0.4,0.65,0.5,0.0,-0.4,-0.7,-0.55,-0.3,-0.2,-0.15,-0.4,-0.7,-1.1,-1.4,-1.35,-1.2,-1.15,-1.5,-1.9,-1.9,-1.4,-0.65,-0.05,0.4,0.55,0.4,0.15,-0.1,-0.2,-0.1,-0.2,-0.45,-0.75,-0.95],
[0.1,-0.05,-0.2,0.0,0.4,0.55,0.35,0.1,-0.05,0.0,0.1,0.2,0.2,0.05,-0.3,-0.6,-0.55,-0.4,-0.5,-0.9,-1.3,-1.55,-1.5,-1.35,-1.4,-1.6,-1.6,-1.4,-1.05,-0.55,0.0,0.45,0.5,0.35,0.1,0.0,0.1,0.1,-0.15,-0.45,-0.75],
[0.6,0.45,0.2,0.3,0.7,0.75,0.45,0.2,0.05,0.1,0.2,0.2,-0.1,-0.35,-0.7,-1.0,-0.95,-0.7,-0.4,-0.5,-0.9,-1.35,-1.7,-1.75,-1.7,-1.5,-1.1,-0.8,-0.65,-0.55,-0.4,-0.05,0.4,0.75,0.8,0.4,-0.1,-0.6,-0.95,-1.05,-0.95],
[0.3,0.55,0.6,0.4,0.2,-0.05,-0.05,0.3,0.55,0.4,0.0,-0.3,-0.3,-0.15,-0.1,-0.4,-0.75,-1.0,-1.0,-0.9,-0.8,-0.75,-1.0,-1.45,-2.0,-2.2,-1.8,-1.1,-0.45,-0.15,-0.1,-0.05,0.1,0.45,0.6,0.4,0.0,-0.5,-0.85,-0.85,-0.65]
];

// CESM2-BB SIA anomaly, 10 members (1990-2014)
const bbSIA = [
[-0.3,-0.8,0.3,-0.2,0.5,0.1,-0.4,0.2,-0.6,-0.2,-0.9,-0.4,-1.2,-0.8,-1.5,-1.1,-1.9,-1.4,-2.3,-1.8,-2.5,-1.9,-2.2,-1.6,-2.0],
[0.1,0.4,1.2,0.2,-0.1,0.6,0.3,-0.5,0.0,-0.6,0.3,-0.2,-0.7,0.1,-0.9,-0.5,-1.3,-1.0,-1.6,-2.0,-1.4,-2.2,-1.7,-1.2,-1.8],
[-0.9,-1.3,-0.4,0.3,-0.3,0.5,-0.2,0.4,-0.3,-0.8,-0.4,-1.1,-0.6,-1.5,-1.0,-1.8,-2.2,-1.5,-2.7,-2.1,-2.6,-2.0,-2.8,-2.2,-2.4],
[0.5,-0.1,0.6,0.9,0.3,-0.2,0.8,0.2,-0.1,0.5,1.0,0.2,-0.3,0.4,-0.2,0.6,-0.6,-0.2,-1.0,-0.6,-1.3,-0.8,0.2,-1.1,-1.2],
[-0.5,0.2,-0.3,0.6,0.0,0.9,0.3,-0.2,-0.6,-0.1,-0.8,-1.3,-0.9,-1.8,-1.4,-2.5,-2.0,-2.8,-2.4,-3.2,-2.6,-2.3,-2.9,-2.0,-2.3],
[0.0,0.5,0.9,0.4,0.8,0.2,0.6,-0.1,0.3,-0.4,0.1,-0.7,-0.2,-1.0,-0.5,-1.2,-0.8,-1.7,-1.3,-1.9,-1.5,-2.4,-1.8,-2.1,-1.5],
[-0.6,-0.2,-0.7,0.0,-0.4,0.3,-0.5,-0.9,-0.2,-1.1,-0.6,-0.4,-1.4,-1.0,-1.9,-1.6,-2.4,-2.0,-1.7,-2.6,-2.2,-2.8,-2.5,-2.9,-2.1],
[0.3,0.7,0.1,0.5,1.0,0.4,0.0,0.6,0.1,0.4,-0.3,0.3,-0.1,0.8,0.2,-0.4,0.3,-0.9,-0.5,-1.3,-0.9,-1.6,-1.1,-0.8,-1.0],
[-0.2,0.1,0.4,-0.4,0.2,-0.3,0.4,0.0,-0.4,0.1,-0.7,-0.2,-1.1,-0.6,-1.3,-0.9,-1.7,-1.2,-2.0,-1.5,-2.2,-1.7,-2.5,-1.9,-2.2],
[0.2,-0.4,0.0,0.7,0.1,0.5,-0.3,0.3,-0.1,-0.5,0.0,-0.9,-0.5,-0.3,-1.1,-0.7,-1.5,-1.1,-1.9,-1.4,-1.8,-2.5,-1.6,-2.0,-1.4]
];

// CESM2-BB SIA trend by end year, 10 members (1990-2014)
const bbTrend = [
[0.0,-0.2,-0.4,-0.6,-0.7,-0.8,-0.9,-0.9,-0.8,-0.6,-0.4,-0.2,-0.1,0.0,0.1,0.1,0.0,-0.2,-0.4,-0.6,-0.8,-0.9,-0.8,-0.6,-0.4],
[-0.6,-0.7,-0.6,-0.5,-0.4,-0.3,-0.2,-0.1,0.0,0.0,-0.1,-0.3,-0.5,-0.7,-0.9,-1.1,-1.2,-1.3,-1.3,-1.2,-1.1,-1.0,-0.9,-0.9,-0.8],
[-0.8,-0.7,-0.7,-0.6,-0.6,-0.7,-0.8,-0.9,-1.0,-1.0,-0.9,-0.8,-0.7,-0.6,-0.6,-0.7,-0.9,-1.1,-1.3,-1.4,-1.5,-1.4,-1.3,-1.1,-0.9],
[-1.65,-1.7,-1.6,-1.5,-1.3,-1.2,-1.1,-1.0,-1.0,-0.9,-0.8,-0.7,-0.6,-0.5,-0.4,-0.3,-0.3,-0.4,-0.5,-0.6,-0.7,-0.8,-0.9,-0.8,-0.7],
[-1.1,-1.0,-1.0,-1.1,-1.2,-1.4,-1.5,-1.5,-1.3,-1.1,-1.0,-1.1,-1.2,-1.3,-1.4,-1.5,-1.6,-1.6,-1.5,-1.4,-1.3,-1.2,-1.0,-0.9,-0.7],
[-0.3,-0.5,-0.7,-0.8,-0.9,-1.0,-1.0,-0.9,-0.8,-0.7,-0.6,-0.5,-0.4,-0.3,-0.2,-0.2,-0.3,-0.5,-0.7,-0.9,-1.0,-1.1,-1.0,-0.9,-0.8],
[-0.7,-0.8,-0.7,-0.5,-0.4,-0.3,-0.3,-0.4,-0.6,-0.8,-1.0,-1.2,-1.3,-1.3,-1.2,-1.1,-1.0,-0.9,-0.9,-1.0,-1.1,-1.2,-1.2,-1.1,-1.0],
[-0.9,-0.9,-1.0,-1.0,-0.9,-0.8,-0.6,-0.4,-0.3,-0.2,-0.2,-0.3,-0.4,-0.5,-0.6,-0.6,-0.5,-0.5,-0.6,-0.7,-0.9,-1.1,-1.3,-1.4,-1.3],
[-1.3,-1.2,-1.1,-0.9,-0.8,-0.8,-0.9,-1.1,-1.2,-1.3,-1.4,-1.5,-1.5,-1.4,-1.2,-1.0,-0.8,-0.7,-0.7,-0.8,-1.0,-1.2,-1.4,-1.3,-1.2],
[-0.5,-0.6,-0.8,-0.9,-1.0,-1.1,-1.1,-1.0,-0.9,-0.8,-0.8,-0.9,-1.0,-1.1,-1.2,-1.3,-1.4,-1.4,-1.2,-1.0,-0.8,-0.6,-0.5,-0.4,-0.3]
];

const xTicks = [1960,1980,2000,2020,2040];
const yTicksAB = [-6,-4,-2,0,2,4];
const yTicksCD = [-3,-2,-1,0,1];
const markYears = [1997,2014];
const legendLabels = {obs:'Observations', le:'CESM2-LE (50)', bb:'CESM2-BB (10)'};
const panelLetters = ['A','B','C','D'];

// ---------- STYLE / LAYOUT ----------
const FONT = '"Liberation Sans", Arial, Helvetica, sans-serif';
const W = 750, H = 430;
const px = v => v / W, py = v => 1 - v / H;
const GRAY = 'rgba(0,0,0,0.3)';
const GRAYC = 'rgba(0,0,0,0.26)';
const GREEN = 'rgba(20,140,20,0.6)';
const RED = '#ff0000';

const traces = [];
function addMembers(rows, xs, xa, ya, color, width, spline) {
  rows.forEach(r => traces.push({
    type: 'scatter', mode: 'lines', x: xs, y: r, xaxis: xa, yaxis: ya,
    line: {color: color, width: width, shape: spline ? 'spline' : 'linear', smoothing: 0.6},
    hoverinfo: 'skip', showlegend: false
  }));
}
function addObs(xs, ys, xa, ya) {
  traces.push({type: 'scatter', mode: 'lines', x: xs, y: ys, xaxis: xa, yaxis: ya,
    line: {color: RED, width: 3.6}, showlegend: false});
}
addMembers(leSIA, yrs2, 'x', 'y', GRAY, 0.7, false);
addObs(obsYears, obsSIA, 'x', 'y');
addMembers(bbSIA, bbYears, 'x2', 'y2', GREEN, 0.8, false);
addObs(obsYears, obsSIA, 'x2', 'y2');
addMembers(leTrend, yrs2, 'x3', 'y3', GRAYC, 0.7, true);
addObs(obsTrendYears, obsTrend, 'x3', 'y3');
addMembers(bbTrend, bbYears, 'x4', 'y4', GREEN, 0.8, true);
addObs(obsTrendYears, obsTrend, 'x4', 'y4');

const colL = [px(58.3), px(357.7)], colR = [px(435), px(734.3)];
const rowT = [py(169), py(7.3)], rowB = [py(383.3), py(220.7)];

function xAxis(domain, anchor, title) {
  return {
    domain: domain, anchor: anchor, range: [1960, 2040], tickvals: xTicks,
    ticks: 'inside', ticklen: 6, tickwidth: 1.2, tickcolor: '#000',
    minor: {ticks: 'inside', dtick: 5, tick0: 1960, ticklen: 3.5, tickwidth: 1, tickcolor: '#000'},
    showline: true, linewidth: 1.6, linecolor: '#000', mirror: 'ticks',
    showgrid: false, zeroline: false, ticklabelstandoff: 9,
    tickfont: {family: FONT, size: 12, color: '#000'},
    title: {text: title, font: {family: FONT, size: 13, color: '#000'}, standoff: 7}
  };
}
function yAxis(domain, anchor, range, tickvals, minorDt, title) {
  return {
    domain: domain, anchor: anchor, range: range, tickvals: tickvals, tickformat: '.1f',
    ticks: 'inside', ticklen: 6, tickwidth: 1.2, tickcolor: '#000',
    minor: {ticks: 'inside', dtick: minorDt, tick0: 0, ticklen: 3.5, tickwidth: 1, tickcolor: '#000'},
    showline: true, linewidth: 1.6, linecolor: '#000', mirror: 'ticks',
    showgrid: false, zeroline: false, ticklabelstandoff: 8,
    tickfont: {family: FONT, size: 12, color: '#000'},
    title: {text: title, font: {family: FONT, size: 13, color: '#000'}, standoff: 6}
  };
}
const yTitleA = 'SIA anomaly (mil. km²)';
const yTitleC = 'SIA trend (mil. km²/decade)';

const shapes = [];
const annotations = [];
const axPairs = [['x','y'],['x2','y2'],['x3','y3'],['x4','y4']];
axPairs.forEach(([xa, ya], i) => {
  markYears.forEach(yr => shapes.push({type: 'line', xref: xa, yref: ya + ' domain', x0: yr, x1: yr, y0: 0, y1: 1,
    line: {color: '#222', width: 0.8, dash: '4px,2px,1px,2px'}, layer: 'above'}));
  shapes.push({type: 'line', xref: xa + ' domain', yref: ya, x0: 0, x1: 1, y0: 0, y1: 0,
    line: {color: '#333', width: 1, dash: '8px,5px'}, layer: 'below'});
  annotations.push({xref: xa + ' domain', yref: ya + ' domain', x: 0.012, y: 0.975, xanchor: 'left', yanchor: 'top',
    text: panelLetters[i], showarrow: false, font: {family: FONT, size: 17, color: '#000', weight: 'bold'}});
});
// manual legends in A and B
[[58.3, legendLabels.le, '#000'], [435, legendLabels.bb, 'rgba(20,140,20,0.8)']].forEach(([x0, lab, lc]) => {
  shapes.push({type: 'line', xref: 'paper', yref: 'paper', x0: px(x0 + 8), x1: px(x0 + 29.5), y0: py(141.5), y1: py(141.5),
    line: {color: RED, width: 3.6}});
  shapes.push({type: 'line', xref: 'paper', yref: 'paper', x0: px(x0 + 8), x1: px(x0 + 29.5), y0: py(156.5), y1: py(156.5),
    line: {color: lc, width: 0.9}});
  annotations.push({xref: 'paper', yref: 'paper', x: px(x0 + 36), y: py(141.5), xanchor: 'left', yanchor: 'middle',
    text: legendLabels.obs, showarrow: false, font: {family: FONT, size: 13, color: '#000'}});
  annotations.push({xref: 'paper', yref: 'paper', x: px(x0 + 36), y: py(156.5), xanchor: 'left', yanchor: 'middle',
    text: lab, showarrow: false, font: {family: FONT, size: 13, color: '#000'}});
});

const layout = {
  width: W, height: H, margin: {l: 0, r: 0, t: 0, b: 0},
  paper_bgcolor: '#fff', plot_bgcolor: '#fff', showlegend: false,
  font: {family: FONT, color: '#000'},
  xaxis: xAxis(colL, 'y', 'Year'),
  yaxis: yAxis(rowT, 'x', [-6, 4], yTicksAB, 0.5, yTitleA),
  xaxis2: xAxis(colR, 'y2', 'Year'),
  yaxis2: yAxis(rowT, 'x2', [-6, 4], yTicksAB, 0.5, yTitleA),
  xaxis3: xAxis(colL, 'y3', 'End year'),
  yaxis3: yAxis(rowB, 'x3', [-3, 1.8], yTicksCD, 0.25, yTitleC),
  xaxis4: xAxis(colR, 'y4', 'End year'),
  yaxis4: yAxis(rowB, 'x4', [-3, 1.8], yTicksCD, 0.25, yTitleC),
  shapes: shapes, annotations: annotations
};

Plotly.newPlot('chart', traces, layout, {displayModeBar: false, staticPlot: true});
</script>
</body>
</html>
